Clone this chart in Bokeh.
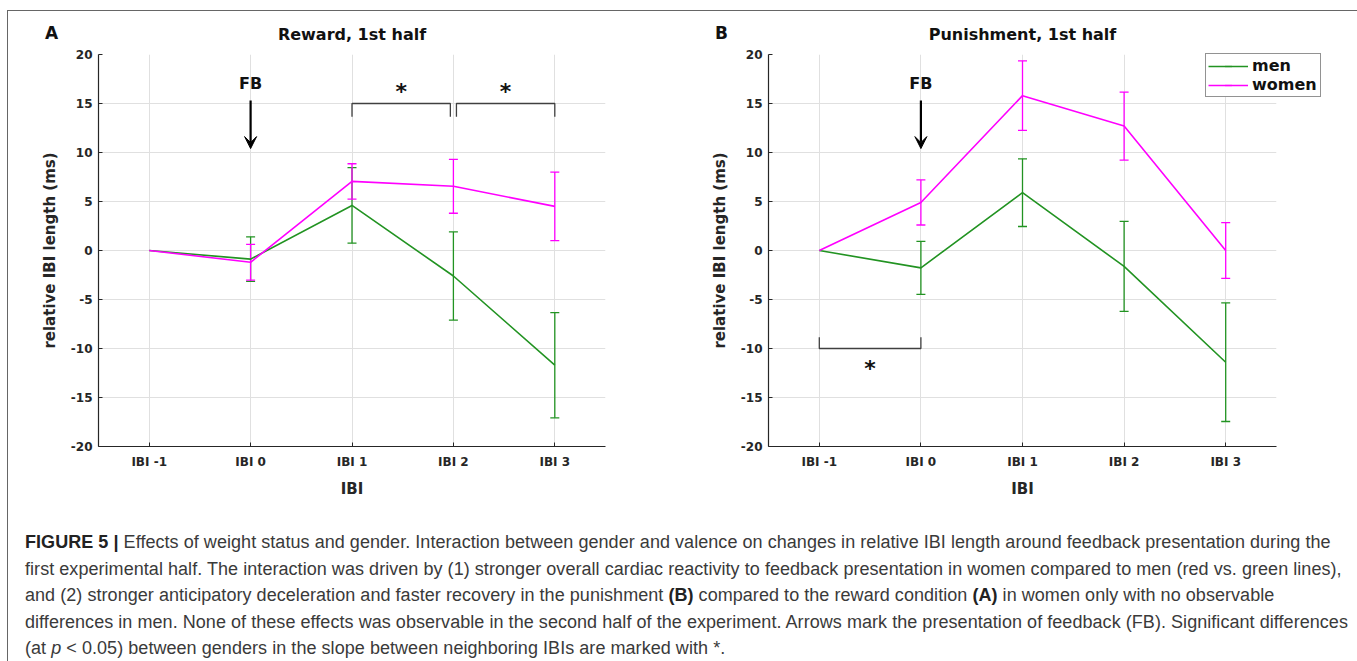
import math
from bokeh.plotting import figure
from bokeh.models import (Whisker, ColumnDataSource, Arrow, VeeHead, TeeHead,
                          Legend, LegendItem, FixedTicker, Div, Range1d)
from bokeh.layouts import row, column
from bokeh.embed import file_html
from bokeh.resources import INLINE
from bokeh.core.properties import value

# ---------------- data ----------------
ibi_pos = [-1, 0, 1, 2, 3]
ibi_labels = ["IBI -1", "IBI 0", "IBI 1", "IBI 2", "IBI 3"]
y_ticks = [-20, -15, -10, -5, 0, 5, 10, 15, 20]
y_tick_labels = ["-20", "-15", "-10", "-5", "0", "5", "10", "15", "20"]

reward_men = [0, -0.88, 4.6, -2.6, -11.7]
reward_men_err = [0, 2.28, 3.85, 4.5, 5.37]
reward_women = [0, -1.2, 7.05, 6.55, 4.5]
reward_women_err = [0, 1.83, 1.8, 2.75, 3.5]

punish_men = [0, -1.77, 5.9, -1.62, -11.4]
punish_men_err = [0, 2.7, 3.45, 4.6, 6.05]
punish_women = [0, 4.9, 15.8, 12.7, 0.0]
punish_women_err = [0, 2.3, 3.55, 3.47, 2.85]

# significance brackets: (start, end), bracket level, tick end level, star level
reward_sig_spans = [(1, 1.97), (2.03, 3)]
reward_sig_level = 15.0
reward_sig_tick = 13.65
reward_star_level = 16.3
punish_sig_spans = [(-1, 0)]
punish_sig_level = -10.0
punish_sig_tick = -8.85
punish_star_level = -11.9

# feedback arrow
fb_x = 0
fb_text_y = 17.0
fb_arrow_top = 15.3
fb_arrow_tip = 10.4

series_names = ["men", "women"]
series_colors = ["#229322", "#ff00ff"]

FONT = "DejaVu Sans"
DARK = "#262626"


def make_panel(title, means, errs, spans, sig_level, sig_tick, star_level,
               width, border_left, border_right):
    p = figure(width=width, height=505, x_range=Range1d(-1.5, 3.5), y_range=Range1d(-20, 20),
               output_backend="svg", toolbar_location=None,
               min_border_left=border_left, min_border_right=border_right,
               min_border_top=43, min_border_bottom=70)
    p.outline_line_color = None
    p.background_fill_color = "white"
    p.border_fill_color = "white"

    # title
    p.title.text = title
    p.title.align = "center"
    p.title.text_font = FONT
    p.title.text_font_size = "16px"
    p.title.text_font_style = "bold"
    p.title.text_color = "#111111"
    p.title.standoff = 22

    # axes
    p.xaxis.ticker = FixedTicker(ticks=ibi_pos)
    p.xaxis.major_label_overrides = {k: v for k, v in zip(ibi_pos, ibi_labels)}
    p.yaxis.ticker = FixedTicker(ticks=y_ticks)
    p.yaxis.major_label_overrides = {k: v for k, v in zip(y_ticks, y_tick_labels)}
    p.xaxis.axis_label = "IBI"
    p.yaxis.axis_label = "relative IBI length (ms)"
    for ax in (p.xaxis, p.yaxis):
        ax.axis_line_color = DARK
        ax.axis_line_width = 1.2
        ax.major_tick_line_color = DARK
        ax.major_tick_in = 4
        ax.major_tick_out = 0
        ax.minor_tick_line_color = None
        ax.major_label_text_font = FONT
        ax.major_label_text_font_style = "bold"
        ax.major_label_text_font_size = "12px"
        ax.major_label_text_color = DARK
        ax.axis_label_text_font = FONT
        ax.axis_label_text_font_style = "bold"
        ax.axis_label_text_font_size = "15px"
        ax.axis_label_text_color = DARK
    p.xaxis.major_label_standoff = 8
    p.xaxis.axis_label_standoff = 8
    p.yaxis.major_label_standoff = 6
    p.yaxis.axis_label_standoff = 9

    p.xgrid.grid_line_color = "#e0e0e0"
    p.ygrid.grid_line_color = "#e0e0e0"

    for name, color, m, e in zip(series_names, series_colors, means, errs):
        p.line(ibi_pos, m, line_color=color, line_width=1.6)
        idx = [i for i, v in enumerate(e) if v > 0]
        src = ColumnDataSource(dict(
            x=[ibi_pos[i] for i in idx],
            upper=[m[i] + e[i] for i in idx],
            lower=[m[i] - e[i] for i in idx]))
        w = Whisker(base="x", upper="upper", lower="lower", source=src,
                    line_color=color, line_width=1.3,
                    upper_head=TeeHead(size=9, line_color=color, line_width=1.3),
                    lower_head=TeeHead(size=9, line_color=color, line_width=1.3))
        p.add_layout(w)

    # significance brackets
    xs = [[a, a, b, b] for a, b in spans]
    ys = [[sig_tick, sig_level, sig_level, sig_tick] for _ in spans]
    p.multi_line(xs, ys, line_color="#404040", line_width=1.3)
    p.text(x=[(a + b) / 2 for a, b in spans], y=[star_level] * len(spans),
           text=["*"] * len(spans), text_align="center", text_baseline="middle",
           text_font=value(FONT), text_font_style="bold", text_font_size="22px",
           text_color="#111111", y_offset=1)

    # feedback arrow
    p.text(x=[fb_x], y=[fb_text_y], text=["FB"], text_align="center", text_baseline="middle",
           text_font=value(FONT), text_font_style="bold", text_font_size="16px",
           text_color="#111111")
    p.add_layout(Arrow(end=VeeHead(size=12, line_color="black", fill_color="black", line_width=1),
                       x_start=fb_x, y_start=fb_arrow_top, x_end=fb_x, y_end=fb_arrow_tip,
                       line_color="black", line_width=2.2))
    return p


pA = make_panel("Reward, 1st half", [reward_men, reward_women],
                [reward_men_err, reward_women_err], reward_sig_spans, reward_sig_level,
                reward_sig_tick, reward_star_level, 680, 90, 83)
pB = make_panel("Punishment, 1st half", [punish_men, punish_women],
                [punish_men_err, punish_women_err], punish_sig_spans, punish_sig_level,
                punish_sig_tick, punish_star_level, 665, 80, 77)

# legend of panel B: it overlaps the frame edge of panel B, so it is drawn in its own
# small overlay figure; its renderers hold panel B's series (outside the tiny view).
pL = figure(width=118, height=48, output_backend="svg", toolbar_location=None,
            min_border=0, x_axis_location=None, y_axis_location=None,
            x_range=Range1d(100, 101), y_range=Range1d(100, 101),
            styles={"position": "absolute", "left": "1197px", "top": "42px"})
pL.outline_line_color = None
pL.grid.visible = False
pL.background_fill_color = None
pL.border_fill_color = None
items = []
for name, color, m in zip(series_names, series_colors, [punish_men, punish_women]):
    ln = pL.line(x=ibi_pos, y=m, line_color=color, line_width=1.6)
    bar = pL.scatter(x=ibi_pos, y=m, marker="dash", angle=math.pi / 2, size=8,
                     line_color=color, line_width=1.3)
    items.append(LegendItem(label=name, renderers=[ln, bar]))
lg = Legend(items=items, location="top_left", orientation="vertical",
            label_text_font=FONT, label_text_font_style="bold",
            label_text_font_size="16px", label_text_color="#111111",
            glyph_width=40, glyph_height=18, label_height=18, label_width=66,
            padding=2, spacing=0, label_standoff=4, margin=0,
            border_line_color=DARK, border_line_width=1,
            background_fill_color="white", background_fill_alpha=1)
pL.add_layout(lg, "center")

caption_html = (
    '<div style="font-family: \'Liberation Sans\', Arial, sans-serif; font-size:18px; '
    'letter-spacing:0.05px; line-height:26.5px; color:#3a3a3a; white-space:nowrap; '
    'padding:8px 0 0 12px;">'
    '<b style="color:#222">FIGURE 5 |</b> Effects of weight status and gender. Interaction between gender and valence on changes in relative IBI length around feedback presentation during the<br>'
    'first experimental half. The interaction was driven by (1) stronger overall cardiac reactivity to feedback presentation in women compared to men (red vs. green lines),<br>'
    'and (2) stronger anticipatory deceleration and faster recovery in the punishment <b style="color:#222">(B)</b> compared to the reward condition <b style="color:#222">(A)</b> in women only with no observable<br>'
    'differences in men. None of these effects was observable in the second half of the experiment. Arrows mark the presentation of feedback (FB). Significant differences<br>'
    '(at <i>p</i> &lt; 0.05) between genders in the slope between neighboring IBIs are marked with *.'
    '</div>'
)
caption = Div(text=caption_html, width=1345, height=145)

letter_style = "font-family:'DejaVu Sans'; font-weight:bold; font-size:17px; line-height:20px; color:#111"
letter_A = Div(text=f'<div style="{letter_style}">A</div>', width=20, height=20,
               styles={"position": "absolute", "left": "32px", "top": "7px"})
letter_B = Div(text=f'<div style="{letter_style}">B</div>', width=20, height=20,
               styles={"position": "absolute", "left": "702px", "top": "7px"})

layout = column(row(pA, pB), caption, letter_A, letter_B, pL, margin=(10, 0, 0, 7),
                styles={"border-top": "1px solid #666", "border-left": "1px solid #666",
                        "border-right": "1px solid #666", "position": "relative"})

open("out.html", "w").write(file_html(layout, INLINE))
